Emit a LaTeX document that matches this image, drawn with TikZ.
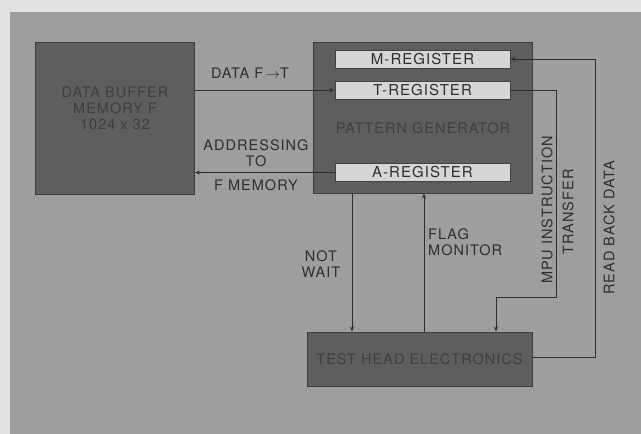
\documentclass[tikz,border=0pt]{standalone}
\usepackage{fontspec}
\setmainfont{TeX Gyre Heros}[LetterSpace=7]
\usetikzlibrary{arrows.meta}
\definecolor{paper}{HTML}{E2E2E2}
\definecolor{panel}{HTML}{9E9E9E}
\definecolor{darkbox}{HTML}{5E5E5E}
\definecolor{darktext}{HTML}{3E3E3E}
\definecolor{regfill}{HTML}{D6D6D6}
\definecolor{ink}{HTML}{2E2E2E}
\tikzset{
  x=1pt, y=-1pt,
  bigbox/.style={draw=ink!70!darkbox, line width=1pt, fill=darkbox, inner sep=0pt},
  regbox/.style={draw=ink!60!darkbox, line width=0.8pt, fill=regfill, inner sep=0pt, text=ink,
     font=\fontsize{15}{15}\selectfont, minimum width=175pt, minimum height=18pt},
  lbl/.style={text=ink, font=\fontsize{14.5}{16}\selectfont, inner sep=0pt, align=center},
  dlbl/.style={text=darktext, font=\fontsize{14.5}{16}\selectfont, inner sep=0pt, align=center},
  conn/.style={draw=ink, line width=0.9pt},
  arr/.style={conn, -{Stealth[length=5pt,width=4pt]}}
}
\begin{document}
\begin{tikzpicture}
\fill[paper] (0,0) rectangle (641,434);
\fill[panel] (10,12) rectangle (641,434);
\useasboundingbox (0,0) rectangle (641,434);
% big boxes
\node[bigbox, minimum width=159pt, minimum height=152pt] (dbm) at (115,118) {};
\node[dlbl] (dbmt) at (115,108) {DATA BUFFER\\MEMORY F\\1024 x 32};
\node[bigbox, minimum width=219pt, minimum height=151pt] (pg) at (423,117.5) {};
\node[dlbl] (pgt) at (423,128) {PATTERN GENERATOR};
\node[bigbox, minimum width=225pt, minimum height=54pt] (th) at (419.5,359) {};
\node[dlbl] (tht) at (419.5,359) {TEST HEAD ELECTRONICS};
% registers
\node[regbox] (mreg) at (422.5,59) {M-REGISTER};
\node[regbox] (treg) at (422.5,90) {T-REGISTER};
\node[regbox] (areg) at (422.5,172.5) {A-REGISTER};
% connectors
\draw[arr] (dbm.east |- treg.west) -- (treg.west);
\node[lbl] (ldata) at (250,73) {DATA F\,$\rightarrow$T};
\draw[arr] (areg.west) -- (dbm.east |- areg.west);
\node[lbl] (laddr) at (256,153) {ADDRESSING\\TO};
\node[lbl] (lfmem) at (256,185) {F MEMORY};
\coordinate (nw) at (352,0);
\draw[arr] (nw |- pg.south) -- (nw |- th.north);
\node[lbl] (lnot) at (321,264) {NOT\\WAIT};
\coordinate (fm) at (424,0);
\draw[arr] (fm |- th.north) -- (fm |- pg.south);
\node[lbl, align=left, anchor=west] (lflag) at (428,242) {FLAG\\MONITOR};
\coordinate (mpu1) at (556,297);
\coordinate (mpu2) at (496,297);
\draw[arr] (treg.east) -| (mpu1) -- (mpu2) -- (mpu2 |- th.north);
\node[lbl, rotate=90] (lmpu) at (547,210) {MPU INSTRUCTION};
\node[lbl, rotate=90] (ltr) at (568,212) {TRANSFER};
\coordinate (rb) at (595,357);
\draw[arr] (th.east |- rb) -- (rb) |- (mreg.east);
\node[lbl, rotate=90] (lrb) at (609,228) {READ BACK DATA};
\end{tikzpicture}
\end{document}
